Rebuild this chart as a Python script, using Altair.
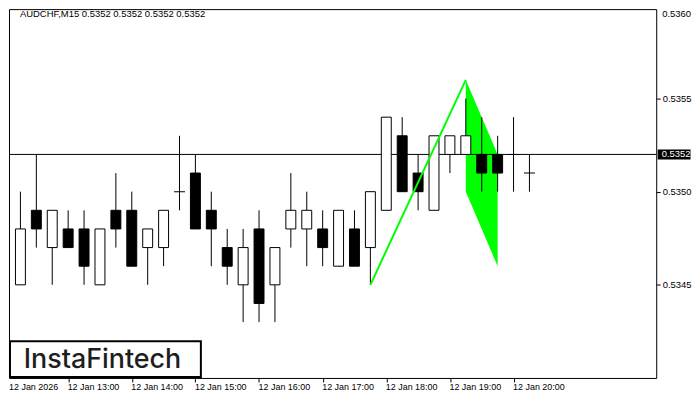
import altair as alt
import pandas as pd

# ---- data (AUDCHF M15, 12 Jan 2026, bars from 12:00) ----
bar_index = list(range(34))
opens  = [0.5344, 0.5345, 0.5349, 0.5347, 0.5348, 0.5348, 0.5345, 0.5349, 0.5349, 0.5347,
          0.5347, 0.5350, 0.5351, 0.5349, 0.5347, 0.5345, 0.5348, 0.5345, 0.5348, 0.5348,
          0.5348, 0.5346, 0.5348, 0.5347, 0.5349, 0.5353, 0.5351, 0.5349, 0.5352, 0.5352,
          0.5352, 0.5352, 0.5352, 0.5351]
highs  = [0.5346, 0.5350, 0.5352, 0.5349, 0.5349, 0.5349, 0.5348, 0.5351, 0.5350, 0.5348,
          0.5349, 0.5353, 0.5352, 0.5350, 0.5348, 0.5348, 0.5349, 0.5347, 0.5351, 0.5350,
          0.5349, 0.5349, 0.5349, 0.5350, 0.5354, 0.5354, 0.5352, 0.5353, 0.5353, 0.5355,
          0.5354, 0.5353, 0.5354, 0.5352]
lows   = [0.5342, 0.5345, 0.5347, 0.5345, 0.5347, 0.5345, 0.5345, 0.5347, 0.5346, 0.5345,
          0.5346, 0.5349, 0.5348, 0.5346, 0.5345, 0.5343, 0.5343, 0.5343, 0.5347, 0.5346,
          0.5346, 0.5346, 0.5346, 0.5345, 0.5349, 0.5350, 0.5349, 0.5349, 0.5351, 0.5352,
          0.5350, 0.5350, 0.5350, 0.5350]
closes = [0.5346, 0.5348, 0.5348, 0.5349, 0.5347, 0.5346, 0.5348, 0.5348, 0.5346, 0.5348,
          0.5349, 0.5350, 0.5348, 0.5348, 0.5346, 0.5347, 0.5344, 0.5347, 0.5349, 0.5349,
          0.5347, 0.5349, 0.5346, 0.5350, 0.5354, 0.5350, 0.5350, 0.5353, 0.5353, 0.5353,
          0.5351, 0.5351, 0.5352, 0.5351]

tick_positions = [0, 4, 8, 12, 16, 20, 24, 28, 32]
tick_labels = ["12 Jan 2026", "12 Jan 13:00", "12 Jan 14:00", "12 Jan 15:00", "12 Jan 16:00",
               "12 Jan 17:00", "12 Jan 18:00", "12 Jan 19:00", "12 Jan 20:00"]
price_ticks = [0.5345, 0.5350, 0.5355]

# bullish flag pattern
pole_x = [23, 29]
pole_y = [0.5345, 0.5356]
flag_x = [29, 31]
flag_top = [0.5356, 0.5352]
flag_bottom = [0.5350, 0.5346]

last_price = 0.5352
header = "AUDCHF,M15  0.5352 0.5352 0.5352 0.5352"
brand = "InstaFintech"

# ---- tables ----
candles = pd.DataFrame({"i": bar_index, "o": opens, "h": highs, "l": lows, "c": closes})
candles["dir"] = ["up" if c > o else ("down" if c < o else "doji") for o, c in zip(opens, closes)]
bodies = candles[candles["dir"] != "doji"]
dojis = candles[candles["dir"] == "doji"]
pole = pd.DataFrame({"x": pole_x, "y": pole_y})
flag = pd.DataFrame({"x": flag_x, "t": flag_top, "b": flag_bottom})
price = pd.DataFrame({"p": [last_price]})
one = pd.DataFrame({"a": [0]})

W, H = 651, 371
FONT = "Liberation Sans"
xs = alt.Scale(domain=[0.28125, 40.96875], nice=False, zero=False, padding=0)
ys = alt.Scale(domain=[0.53400, 0.53598], nice=False, zero=False, padding=0)

label_expr = "[" + ",".join("'%s'" % s for s in tick_labels) + "][datum.value / 4]"
x_axis = alt.Axis(orient="bottom", values=tick_positions[1:], labelExpr=label_expr,
                  tickSize=4, tickColor="black", domain=False, grid=False,
                  labelAlign="left", labelOffset=-1, labelPadding=1,
                  labelFont=FONT, labelFontSize=9, labelColor="black", title=None)
y_axis = alt.Axis(orient="right", values=price_ticks, format=".4f",
                  tickSize=4, tickColor="black", domain=False, grid=False,
                  labelPadding=2, labelFont=FONT, labelFontSize=9.5,
                  labelColor="black", title=None)


def X(f):
    return alt.X(f, scale=xs, axis=x_axis, title=None)


def Y(f):
    return alt.Y(f, scale=ys, axis=y_axis, title=None)


area = alt.Chart(flag).mark_area(color="#00ff00", opacity=1, clip=True).encode(
    x=X("x:Q"), y=Y("t:Q"), y2="b:Q")

price_line = alt.Chart(price).mark_rule(color="black", strokeWidth=1).encode(y=Y("p:Q"))

wicks = alt.Chart(candles).mark_rule(color="black", strokeWidth=1, clip=True).encode(
    x=X("i:Q"), y=Y("l:Q"), y2="h:Q")

body = alt.Chart(bodies).mark_bar(size=10, stroke="black", strokeWidth=1, clip=True).encode(
    x=X("i:Q"), y=Y("o:Q"), y2="c:Q",
    fill=alt.Fill("dir:N", scale=alt.Scale(domain=["up", "down"], range=["white", "black"]),
                  legend=None))

doji = alt.Chart(dojis).mark_tick(orient="horizontal", size=11, thickness=1,
                                  color="black", opacity=1, clip=True).encode(
    x=X("i:Q"), y=Y("o:Q"))

pole_line = alt.Chart(pole).mark_line(color="#00ff00", strokeWidth=2).encode(
    x=X("x:Q"), y=Y("y:Q"))

title = alt.Chart(pd.DataFrame({"t": [header]})).mark_text(
    align="left", baseline="alphabetic", font=FONT, fontSize=9.5, color="black").encode(
    x=alt.value(11), y=alt.value(8), text="t:N")

price_box = alt.Chart(one).mark_rect(color="black").encode(
    x=alt.value(652.5), x2=alt.value(685.5), y=alt.value(141.3), y2=alt.value(151.3))

price_text = alt.Chart(price).mark_text(
    align="left", baseline="middle", font=FONT, fontSize=9.5, color="white").encode(
    x=alt.value(656.5), y=Y("p:Q"), text=alt.Text("p:Q", format=".4f"))

top_label = alt.Chart(pd.DataFrame({"t": ["0.5360"]})).mark_text(
    align="left", baseline="middle", font=FONT, fontSize=9.5, color="black").encode(
    x=alt.value(657), y=alt.value(5), text="t:N")

first_label = alt.Chart(pd.DataFrame({"t": [tick_labels[0]]})).mark_text(
    align="left", baseline="top", font=FONT, fontSize=9, color="black").encode(
    x=alt.value(0), y=alt.value(H + 5.5), text="t:N")

logo_box = alt.Chart(one).mark_rect(fill="white", stroke="black", strokeWidth=2).encode(
    x=alt.value(1), x2=alt.value(193), y=alt.value(334), y2=alt.value(370))

logo_text = alt.Chart(pd.DataFrame({"t": [brand]})).mark_text(
    align="center", baseline="alphabetic", font="Inter", fontSize=27, fontWeight=500,
    color="#1e1e1e").encode(x=alt.value(94), y=alt.value(361), text="t:N")

chart = alt.layer(
    area, price_line, wicks, body, doji, pole_line, title, price_box, price_text,
    top_label, first_label, logo_box, logo_text
).properties(
    width=W, height=H, padding={"left": 0, "top": 0, "right": 0, "bottom": 0},
    background="white"
).configure_view(stroke="black", strokeWidth=1)

chart.save("out.html", embed_options={"renderer": "svg", "actions": False})
